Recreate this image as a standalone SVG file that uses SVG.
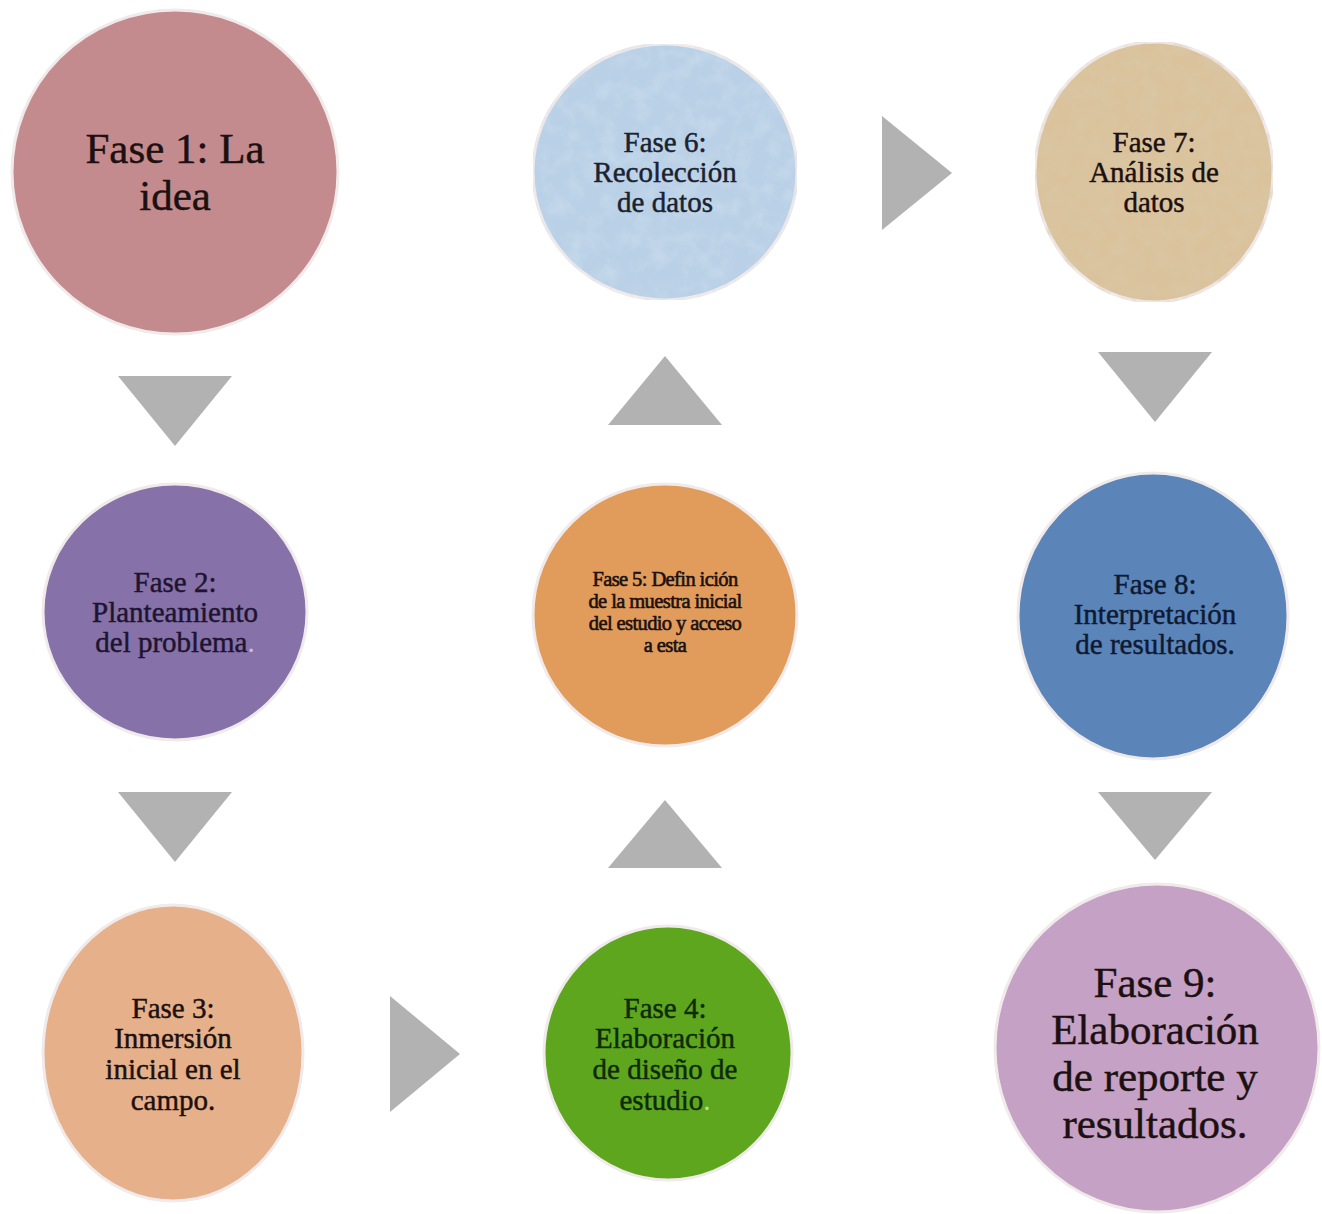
<svg xmlns="http://www.w3.org/2000/svg" width="1322" height="1214" viewBox="0 0 1322 1214">
<style>
.node{stroke:#f1eaea;stroke-width:3}
.t{font-family:"Liberation Serif","Times New Roman",serif;text-anchor:middle;fill:#1c1010;stroke:#1c1010;stroke-width:0.45px}
.big{font-size:43px}
.mid{font-size:29px}
.small{font-size:20.5px;letter-spacing:-0.6px;stroke-width:0.6px}
.arrow{fill:#b2b2b2}
</style>
<defs>
<filter id="texBlue" x="0" y="0" width="100%" height="100%">
<feTurbulence type="fractalNoise" baseFrequency="0.06" numOctaves="3" seed="3" result="n"/>
<feColorMatrix in="n" type="matrix" values="0 0 0 0 0.6  0 0 0 0 0.72  0 0 0 0 0.85  0 0 0 1.3 -0.5" result="c"/>
<feComposite in="c" in2="SourceGraphic" operator="in" result="m"/>
<feMerge><feMergeNode in="SourceGraphic"/><feMergeNode in="m"/></feMerge>
</filter>
<filter id="texTan" x="0" y="0" width="100%" height="100%">
<feTurbulence type="fractalNoise" baseFrequency="0.07" numOctaves="3" seed="7" result="n"/>
<feColorMatrix in="n" type="matrix" values="0 0 0 0 0.7  0 0 0 0 0.58  0 0 0 0 0.4  0 0 0 1.3 -0.5" result="c"/>
<feComposite in="c" in2="SourceGraphic" operator="in" result="m"/>
<feMerge><feMergeNode in="SourceGraphic"/><feMergeNode in="m"/></feMerge>
</filter>
</defs>
<rect width="1322" height="1214" fill="#ffffff"/>

<g id="connectors">
<polygon class="arrow" points="118,376 232,376 175,446"/>
<polygon class="arrow" points="118,792 232,792 175,862"/>
<polygon class="arrow" points="390,996 390,1112 460,1054"/>
<polygon class="arrow" points="608,868 722,868 665,800"/>
<polygon class="arrow" points="608,425 722,425 665,356"/>
<polygon class="arrow" points="882,116 882,230 952,173"/>
<polygon class="arrow" points="1098,352 1212,352 1155,422"/>
<polygon class="arrow" points="1098,792 1212,792 1155,860"/>
</g>

<g id="fase1">
<ellipse class="node" cx="175" cy="172" rx="163" ry="162" fill="#c48b8e"/>
<text class="t big" x="175" y="163">Fase 1: La</text>
<text class="t big" x="175" y="210">idea</text>
</g>

<g id="fase2">
<ellipse class="node" cx="175" cy="612" rx="132" ry="128" fill="#8671a9"/>
<text class="t mid" x="175" y="592" style="fill:#1e1430;stroke:#1e1430">Fase 2:</text>
<text class="t mid" x="175" y="622" style="fill:#1e1430;stroke:#1e1430">Planteamiento</text>
<text class="t mid" x="175" y="652" style="fill:#1e1430;stroke:#1e1430">del problema<tspan style="fill:#c9bde0;stroke:none">.</tspan></text>
</g>

<g id="fase3">
<ellipse class="node" cx="173" cy="1053" rx="130" ry="148" fill="#e6b08a"/>
<text class="t mid" x="173" y="1018">Fase 3:</text>
<text class="t mid" x="173" y="1048">Inmersión</text>
<text class="t mid" x="173" y="1079">inicial en el</text>
<text class="t mid" x="173" y="1110">campo.</text>
</g>

<g id="fase4">
<ellipse class="node" cx="668" cy="1053" rx="124" ry="127" fill="#5da61e"/>
<text class="t mid" x="665" y="1018" style="fill:#0f2a08;stroke:#0f2a08">Fase 4:</text>
<text class="t mid" x="665" y="1048" style="fill:#0f2a08;stroke:#0f2a08">Elaboración</text>
<text class="t mid" x="665" y="1079" style="fill:#0f2a08;stroke:#0f2a08">de diseño de</text>
<text class="t mid" x="665" y="1110" style="fill:#0f2a08;stroke:#0f2a08">estudio<tspan style="fill:#b8dc98;stroke:none">.</tspan></text>
</g>

<g id="fase5">
<ellipse class="node" cx="665" cy="615" rx="132" ry="131" fill="#e19c5c"/>
<text class="t small" x="665" y="586">Fase 5: Defin ición</text>
<text class="t small" x="665" y="608">de la muestra inicial</text>
<text class="t small" x="665" y="630">del estudio y acceso</text>
<text class="t small" x="665" y="652">a esta</text>
</g>

<g id="fase6">
<ellipse class="node" cx="665" cy="172" rx="132" ry="128" fill="#b9d0e6" filter="url(#texBlue)"/>
<text class="t mid" x="665" y="152" style="fill:#1a2230;stroke:#1a2230">Fase 6:</text>
<text class="t mid" x="665" y="182" style="fill:#1a2230;stroke:#1a2230">Recolección</text>
<text class="t mid" x="665" y="212" style="fill:#1a2230;stroke:#1a2230">de datos</text>
</g>

<g id="fase7">
<ellipse class="node" cx="1154" cy="172" rx="119" ry="130" fill="#dac39c" filter="url(#texTan)"/>
<text class="t mid" x="1154" y="152">Fase 7:</text>
<text class="t mid" x="1154" y="182">Análisis de</text>
<text class="t mid" x="1154" y="212">datos</text>
</g>

<g id="fase8">
<ellipse class="node" cx="1153" cy="616" rx="135" ry="143" fill="#5b84b9"/>
<text class="t mid" x="1155" y="594" style="fill:#0e1a33;stroke:#0e1a33">Fase 8:</text>
<text class="t mid" x="1155" y="624" style="fill:#0e1a33;stroke:#0e1a33">Interpretación</text>
<text class="t mid" x="1155" y="654" style="fill:#0e1a33;stroke:#0e1a33">de resultados.</text>
</g>

<g id="fase9">
<ellipse class="node" cx="1157" cy="1048" rx="162" ry="164" fill="#c4a1c5"/>
<text class="t big" x="1155" y="997">Fase 9:</text>
<text class="t big" x="1155" y="1044">Elaboración</text>
<text class="t big" x="1155" y="1091">de reporte y</text>
<text class="t big" x="1155" y="1138">resultados.</text>
</g>
</svg>
